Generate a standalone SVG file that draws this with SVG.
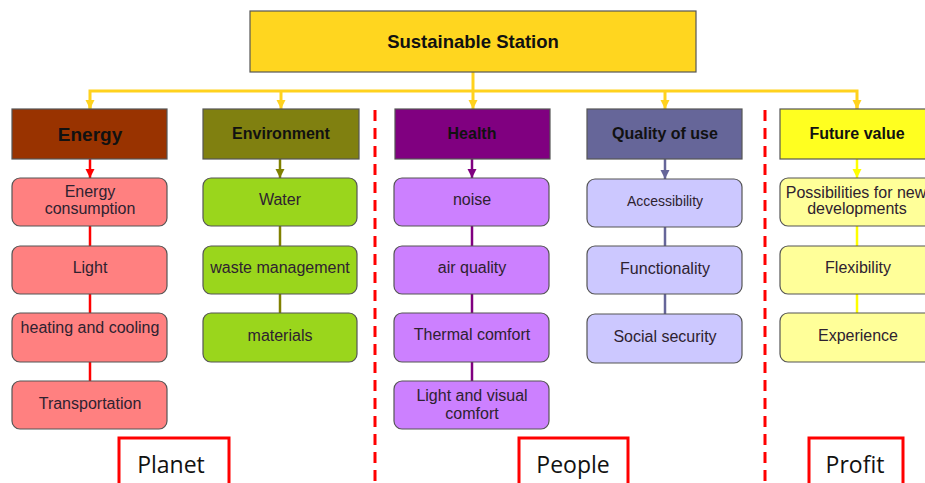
<svg xmlns="http://www.w3.org/2000/svg" width="925" height="483" viewBox="0 0 925 483">
<defs>
<style>
text{font-family:"Liberation Sans",Arial,sans-serif;text-anchor:middle;dominant-baseline:central}
.hd{font-weight:bold;font-size:16px;fill:#111}
.ch{font-size:16px;fill:#2e2230}
.box{stroke:#555;stroke-width:1.2}
.lab{fill:#fff;stroke:#ff0000;stroke-width:3}
.labt{font-size:23px;fill:#111;font-family:"Open Sans","Liberation Sans",sans-serif}
.dash{stroke:#ff0000;stroke-width:3;stroke-dasharray:11 7;fill:none}
</style>
<marker id="aY" markerUnits="userSpaceOnUse" markerWidth="10" markerHeight="10" refX="5" refY="9" viewBox="0 0 10 10"><path d="M0.5,0 L9.5,0 L5,9 z" fill="#ffd21e"/></marker>
<marker id="aR" markerUnits="userSpaceOnUse" markerWidth="10" markerHeight="10" refX="5" refY="9" viewBox="0 0 10 10"><path d="M0.5,0 L9.5,0 L5,9 z" fill="#ff0000"/></marker>
<marker id="aO" markerUnits="userSpaceOnUse" markerWidth="10" markerHeight="10" refX="5" refY="9" viewBox="0 0 10 10"><path d="M0.5,0 L9.5,0 L5,9 z" fill="#808000"/></marker>
<marker id="aP" markerUnits="userSpaceOnUse" markerWidth="10" markerHeight="10" refX="5" refY="9" viewBox="0 0 10 10"><path d="M0.5,0 L9.5,0 L5,9 z" fill="#800080"/></marker>
<marker id="aQ" markerUnits="userSpaceOnUse" markerWidth="10" markerHeight="10" refX="5" refY="9" viewBox="0 0 10 10"><path d="M0.5,0 L9.5,0 L5,9 z" fill="#666699"/></marker>
<marker id="aF" markerUnits="userSpaceOnUse" markerWidth="10" markerHeight="10" refX="5" refY="9" viewBox="0 0 10 10"><path d="M0.5,0 L9.5,0 L5,9 z" fill="#ffff00"/></marker>
</defs>
<rect width="925" height="483" fill="#fff"/>

<g id="dividers">
<line class="dash" x1="375" y1="110" x2="375" y2="483"/>
<line class="dash" x1="765" y1="110" x2="765" y2="483"/>
</g>

<g id="connectors" fill="none">
<g stroke="#ffd21e" stroke-width="3">
<line x1="473" y1="72" x2="473" y2="91"/>
<polyline points="90,109 90,91 857,91 857,109" stroke-linejoin="miter"/>
<line x1="90" y1="100" x2="90" y2="109" marker-end="url(#aY)"/>
<line x1="281" y1="91" x2="281" y2="109" marker-end="url(#aY)"/>
<line x1="473" y1="91" x2="473" y2="109" marker-end="url(#aY)"/>
<line x1="665" y1="91" x2="665" y2="109" marker-end="url(#aY)"/>
<line x1="857" y1="100" x2="857" y2="109" marker-end="url(#aY)"/>
</g>
<g stroke="#ff0000" stroke-width="2.5">
<line x1="90" y1="159" x2="90" y2="178" marker-end="url(#aR)"/>
<line x1="90" y1="226" x2="90" y2="246"/>
<line x1="90" y1="294" x2="90" y2="313"/>
<line x1="90" y1="362" x2="90" y2="381"/>
</g>
<g stroke="#808000" stroke-width="2.5">
<line x1="280" y1="159" x2="280" y2="178" marker-end="url(#aO)"/>
<line x1="280" y1="226" x2="280" y2="246"/>
<line x1="280" y1="294" x2="280" y2="313"/>
</g>
<g stroke="#800080" stroke-width="2.5">
<line x1="472" y1="159" x2="472" y2="178" marker-end="url(#aP)"/>
<line x1="472" y1="226" x2="472" y2="246"/>
<line x1="472" y1="294" x2="472" y2="313"/>
<line x1="472" y1="362" x2="472" y2="381"/>
</g>
<g stroke="#666699" stroke-width="2.5">
<line x1="665" y1="159" x2="665" y2="179" marker-end="url(#aQ)"/>
<line x1="665" y1="227" x2="665" y2="246"/>
<line x1="665" y1="294" x2="665" y2="314"/>
</g>
<g stroke="#ffff00" stroke-width="2.5">
<line x1="857" y1="159" x2="857" y2="178" marker-end="url(#aF)"/>
<line x1="857" y1="226" x2="857" y2="246"/>
<line x1="857" y1="294" x2="857" y2="313"/>
</g>
</g>

<g id="root">
<rect x="250" y="11" width="446" height="61" fill="#ffd61f" stroke="#555" stroke-width="1.2"/>
<text x="473" y="41" font-weight="bold" font-size="18.5" fill="#111">Sustainable Station</text>
</g>

<g id="energy">
<rect class="box" x="12" y="109" width="155" height="50" fill="#993300"/>
<text class="hd" x="90" y="134" style="font-size:19px">Energy</text>
</g>
<g id="energy-consumption"><rect class="box" x="12" y="178" width="155" height="48" rx="8" fill="#ff8080"/><text class="ch" x="90" y="191">Energy</text><text class="ch" x="90" y="208">consumption</text></g>
<g id="light"><rect class="box" x="12" y="246" width="155" height="48" rx="8" fill="#ff8080"/><text class="ch" x="90" y="267">Light</text></g>
<g id="heating"><rect class="box" x="12" y="313" width="155" height="49" rx="8" fill="#ff8080"/><text class="ch" x="90" y="327">heating and cooling</text></g>
<g id="transportation"><rect class="box" x="12" y="381" width="155" height="48" rx="8" fill="#ff8080"/><text class="ch" x="90" y="403">Transportation</text></g>

<g id="environment">
<rect class="box" x="203" y="109" width="156" height="50" fill="#808010"/>
<text class="hd" x="281" y="133">Environment</text>
</g>
<g id="water"><rect class="box" x="203" y="178" width="154" height="48" rx="8" fill="#9ad61c"/><text class="ch" x="280" y="199">Water</text></g>
<g id="waste"><rect class="box" x="203" y="246" width="154" height="48" rx="8" fill="#9ad61c"/><text class="ch" x="280" y="267">waste management</text></g>
<g id="materials"><rect class="box" x="203" y="313" width="154" height="49" rx="8" fill="#9ad61c"/><text class="ch" x="280" y="335">materials</text></g>

<g id="health">
<rect class="box" x="395" y="109" width="155" height="50" fill="#800080"/>
<text class="hd" x="472" y="133">Health</text>
</g>
<g id="noise"><rect class="box" x="394" y="178" width="155" height="48" rx="8" fill="#cc80ff"/><text class="ch" x="472" y="199">noise</text></g>
<g id="air-quality"><rect class="box" x="394" y="246" width="155" height="48" rx="8" fill="#cc80ff"/><text class="ch" x="472" y="267">air quality</text></g>
<g id="thermal"><rect class="box" x="394" y="313" width="155" height="49" rx="8" fill="#cc80ff"/><text class="ch" x="472" y="334">Thermal comfort</text></g>
<g id="visual"><rect class="box" x="394" y="381" width="155" height="48" rx="8" fill="#cc80ff"/><text class="ch" x="472" y="395">Light and visual</text><text class="ch" x="472" y="413">comfort</text></g>

<g id="quality">
<rect class="box" x="587" y="109" width="155" height="50" fill="#666699"/>
<text class="hd" x="665" y="133">Quality of use</text>
</g>
<g id="accessibility"><rect class="box" x="587" y="179" width="155" height="48" rx="8" fill="#ccc8ff"/><text class="ch" x="665" y="201" style="font-size:14px">Accessibility</text></g>
<g id="functionality"><rect class="box" x="587" y="246" width="155" height="48" rx="8" fill="#ccc8ff"/><text class="ch" x="665" y="268">Functionality</text></g>
<g id="social"><rect class="box" x="587" y="314" width="155" height="49" rx="8" fill="#ccc8ff"/><text class="ch" x="665" y="336">Social security</text></g>

<g id="future">
<rect class="box" x="780" y="109" width="160" height="50" fill="#ffff20"/>
<text class="hd" x="857" y="133">Future value</text>
</g>
<g id="possibilities"><rect class="box" x="780" y="178" width="160" height="48" rx="8" fill="#ffff99"/><text class="ch" x="856" y="192">Possibilities for new</text><text class="ch" x="857" y="208">developments</text></g>
<g id="flexibility"><rect class="box" x="780" y="246" width="160" height="48" rx="8" fill="#ffff99"/><text class="ch" x="858" y="267">Flexibility</text></g>
<g id="experience"><rect class="box" x="780" y="313" width="160" height="49" rx="8" fill="#ffff99"/><text class="ch" x="858" y="335">Experience</text></g>

<g id="planet"><rect class="lab" x="119" y="438" width="110" height="50"/><text class="labt" x="171" y="464">Planet</text></g>
<g id="people"><rect class="lab" x="519" y="438" width="109" height="50"/><text class="labt" x="573" y="464">People</text></g>
<g id="profit"><rect class="lab" x="809" y="438" width="94" height="50"/><text class="labt" x="855" y="464">Profit</text></g>
</svg>
